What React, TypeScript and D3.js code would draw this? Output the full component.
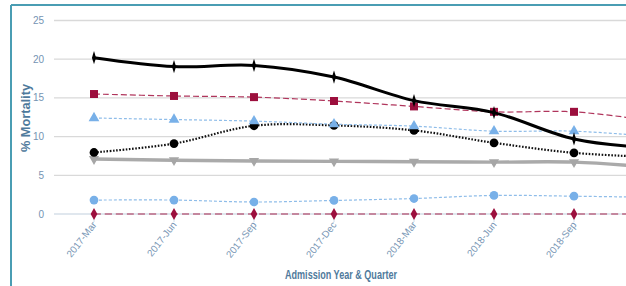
import React from "react";
import * as d3 from "d3";

const categories = ["2017-Mar", "2017-Jun", "2017-Sep", "2017-Dec", "2018-Mar", "2018-Jun", "2018-Sep", "2018-Dec"];
const visibleLabels = ["2017-Mar", "2017-Jun", "2017-Sep", "2017-Dec", "2018-Mar", "2018-Jun", "2018-Sep"];
const yTicks = [0, 5, 10, 15, 20, 25];

const blackSolid = [20.2, 19.05, 19.2, 17.7, 14.65, 13.1, 9.7, 8.5];
const crimsonSquares = [15.5, 15.25, 15.1, 14.6, 13.9, 13.2, 13.2, 12.0];
const blueTriangles = [12.4, 12.2, 12.0, 11.6, 11.35, 10.7, 10.7, 10.0];
const blackDotted = [7.95, 9.1, 11.4, 11.45, 10.8, 9.2, 7.9, 7.35];
const grayThick = [7.1, 6.95, 6.85, 6.8, 6.75, 6.7, 6.7, 6.0];
const blueCircles = [1.8, 1.8, 1.55, 1.75, 2.0, 2.4, 2.3, 2.15];
const crimsonDiamonds = [0, 0, 0, 0, 0, 0, 0, 0];

const W = 626;
const H = 286;

type Series = {
  values: number[];
  stroke: string;
  width: number;
  dash?: string;
  marker: "diamond" | "square" | "triangle" | "circle" | "triangleDown" | "smallDiamond";
  markerColor: string;
  markerSize: number;
};

const series: Series[] = [
  { values: crimsonDiamonds, stroke: "#a8294f", width: 1.2, dash: "7,4", marker: "diamond", markerColor: "#9c0f3d", markerSize: 40 },
  { values: blueCircles, stroke: "#8fbde9", width: 1.2, dash: "3,2", marker: "circle", markerColor: "#78b0e8", markerSize: 60 },
  { values: grayThick, stroke: "#aaaaaa", width: 3.4, marker: "triangleDown", markerColor: "#a6a6a6", markerSize: 45 },
  { values: blackDotted, stroke: "#111", width: 2.2, dash: "1.6,1.6", marker: "circle", markerColor: "#000", markerSize: 60 },
  { values: blueTriangles, stroke: "#8fbde9", width: 1.2, dash: "3,2", marker: "triangle", markerColor: "#78b0e8", markerSize: 50 },
  { values: crimsonSquares, stroke: "#b0355c", width: 1.2, dash: "6,3", marker: "square", markerColor: "#9c0f3d", markerSize: 64 },
  { values: blackSolid, stroke: "#000", width: 3, marker: "smallDiamond", markerColor: "#000", markerSize: 30 },
];

const symbolMap: Record<string, d3.SymbolType> = {
  diamond: d3.symbolDiamond,
  smallDiamond: d3.symbolDiamond,
  square: d3.symbolSquare,
  triangle: d3.symbolTriangle,
  triangleDown: d3.symbolTriangle,
  circle: d3.symbolCircle,
};

export default function App() {
  const x = d3.scaleBand<string>().domain(categories).range([54, 54 + 80 * categories.length]);
  const y = d3.scaleLinear().domain([0, 25]).range([214, 20.5]);
  const cx = (c: string) => (x(c) as number) + x.bandwidth() / 2;
  const line = d3
    .line<number>()
    .x((_, i) => cx(categories[i]))
    .y((d) => y(d))
    .curve(d3.curveCatmullRom.alpha(0.5));

  const tickColor = "#7594b3";
  const titleColor = "#4f7a9c";
  const narrow = "'Liberation Sans Narrow', 'Liberation Sans', sans-serif";
  const regular = "'Liberation Sans', Arial, sans-serif";

  return (
    <svg width={W} height={H} style={{ position: "absolute", left: 0, top: 0, background: "#fff" }}>
      <defs>
        <clipPath id="plot">
          <rect x={0} y={0} width={W} height={H} />
        </clipPath>
      </defs>
      <rect x={0} y={0} width={W} height={H} fill="#fff" />
      {/* frame */}
      <line x1={11} y1={5} x2={W} y2={5} stroke="#4a9db3" strokeWidth={2} />
      <line x1={11} y1={5} x2={11} y2={H} stroke="#4a9db3" strokeWidth={2} />

      {/* gridlines */}
      {yTicks.map((t) => (
        <g key={t}>
          <line
            x1={54}
            x2={W}
            y1={y(t)}
            y2={y(t)}
            stroke={t === 0 ? "#d6dfe9" : "#d9d9d9"}
            strokeWidth={t === 0 ? 1.5 : 1.3}
          />
          <text x={44} y={y(t)} dy="0.35em" textAnchor="end" fontSize={10} fill={tickColor} fontFamily={narrow}>
            {t}
          </text>
        </g>
      ))}

      {/* x ticks */}
      {categories.map((c) => (
        <line key={c} x1={cx(c)} x2={cx(c)} y1={214} y2={222} stroke="#d0dce8" strokeWidth={1} />
      ))}
      {visibleLabels.map((c) => (
        <text
          key={c}
          transform={`translate(${cx(c) + 3},${225}) rotate(-52)`}
          textAnchor="end"
          fontSize={9.8}
          fill={tickColor}
          fontFamily={regular}
        >
          {c}
        </text>
      ))}

      {/* series */}
      <g clipPath="url(#plot)">
        {series.map((s, si) => (
          <g key={si}>
            <path
              d={line(s.values) || ""}
              fill="none"
              stroke={s.stroke}
              strokeWidth={s.width}
              strokeDasharray={s.dash}
            />
            {s.values.map((v, i) => (
              <path
                key={i}
                d={d3.symbol().type(symbolMap[s.marker]).size(s.markerSize)() || ""}
                transform={`translate(${cx(categories[i])},${y(v)})${s.marker === "triangleDown" ? " rotate(180)" : ""}${
                  s.marker === "smallDiamond" ? " scale(0.7,1.3)" : ""
                }`}
                fill={s.markerColor}
              />
            ))}
          </g>
        ))}
      </g>

      {/* axis titles */}
      <text
        transform={`translate(30,118) rotate(-90)`}
        textAnchor="middle"
        fontSize={12.5}
        fontWeight="bold"
        fill={titleColor}
        fontFamily={narrow}
        textLength={68}
        lengthAdjust="spacingAndGlyphs"
      >
        % Mortality
      </text>
      <text
        x={341}
        y={279}
        textAnchor="middle"
        fontSize={12}
        fontWeight="bold"
        fill={titleColor}
        fontFamily={narrow}
        textLength={112}
        lengthAdjust="spacingAndGlyphs"
      >
        Admission Year &amp; Quarter
      </text>
    </svg>
  );
}
